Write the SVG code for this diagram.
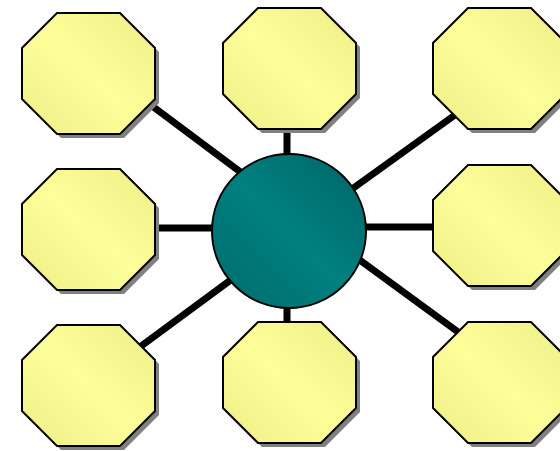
<svg xmlns="http://www.w3.org/2000/svg" width="560" height="451" viewBox="0 0 560 451">
<defs>
<linearGradient id="yg" x1="0" y1="1" x2="1" y2="0">
<stop offset="0" stop-color="#EEEE88"/>
<stop offset="0.5" stop-color="#FFFF99"/>
<stop offset="1" stop-color="#EEEE88"/>
</linearGradient>
<linearGradient id="tg" x1="0" y1="1" x2="1" y2="0">
<stop offset="0" stop-color="#006A6A"/>
<stop offset="0.5" stop-color="#008080"/>
<stop offset="1" stop-color="#006464"/>
</linearGradient>
<polygon id="oct" points="35,0 98,0 133,35 133,86 98,121 35,121 0,86 0,35"/>
</defs>
<style>
.sh{fill:#808080}
.oc{fill:url(#yg);stroke:#000;stroke-width:2;stroke-linejoin:miter}
.cn line{stroke:#000;stroke-width:7}
</style>
<g id="connectors" class="cn">
<line x1="120" y1="82" x2="262" y2="188"/>
<line x1="287" y1="231" x2="287" y2="68"/>
<line x1="320" y1="212" x2="480" y2="97"/>
<line x1="289" y1="228" x2="88" y2="228"/>
<line x1="289" y1="227" x2="501" y2="227"/>
<line x1="110" y1="369" x2="262" y2="257"/>
<line x1="287" y1="231" x2="287" y2="383"/>
<line x1="320" y1="231" x2="480" y2="348"/>
</g>
<g id="n-tl" transform="translate(22,13)"><use href="#oct" class="sh" x="4" y="4"/><use href="#oct" class="oc"/></g>
<g id="n-tm" transform="translate(223,8)"><use href="#oct" class="sh" x="4" y="4"/><use href="#oct" class="oc"/></g>
<g id="n-tr" transform="translate(433,8)"><use href="#oct" class="sh" x="4" y="4"/><use href="#oct" class="oc"/></g>
<g id="n-ml" transform="translate(22,169)"><use href="#oct" class="sh" x="4" y="4"/><use href="#oct" class="oc"/></g>
<g id="n-mr" transform="translate(433,165)"><use href="#oct" class="sh" x="4" y="4"/><use href="#oct" class="oc"/></g>
<g id="n-bl" transform="translate(22,325)"><use href="#oct" class="sh" x="4" y="4"/><use href="#oct" class="oc"/></g>
<g id="n-bm" transform="translate(223,322)"><use href="#oct" class="sh" x="4" y="4"/><use href="#oct" class="oc"/></g>
<g id="n-br" transform="translate(433,322)"><use href="#oct" class="sh" x="4" y="4"/><use href="#oct" class="oc"/></g>
<g id="hub"><circle cx="289" cy="231" r="77" fill="url(#tg)" stroke="#000" stroke-width="2"/></g>
</svg>
